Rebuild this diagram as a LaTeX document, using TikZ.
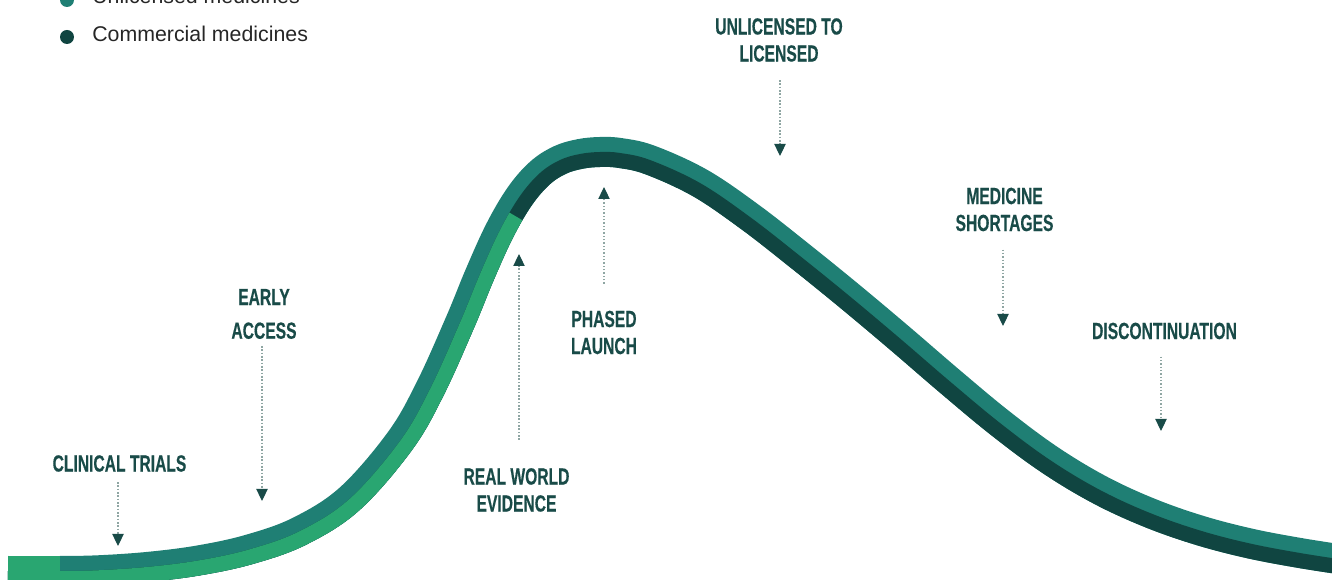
\documentclass[tikz,border=0pt]{standalone}
\usepackage{fontspec}
\setmainfont{Liberation Sans}
\newfontfamily\stagefont{Liberation Sans}[FakeStretch=0.67,BoldFeatures={FakeBold=0.4}]
\usetikzlibrary{arrows.meta}

\definecolor{unlicensed}{HTML}{1F7F74}
\definecolor{trialgreen}{HTML}{29A671}
\definecolor{commercial}{HTML}{104541}
\definecolor{stageink}{HTML}{194B48}
\definecolor{dotline}{HTML}{8FA6A3}

% middle line of the life-cycle band (pixel units, y pointing down)
\newcommand\lifeline{plot[smooth,tension=0.6] coordinates {(8,571) (60,571) (100,570.2) (150,566.7) (200,560.2) (250,549.2) (300,531) (350,498.5) (400,441) (430,389) (460,322.5) (480,274) (500,230) (520,196) (540,173) (560,160) (580,154) (600,152) (620,153) (650,160) (700,183) (750,217) (800,256) (850,296.5) (900,338.5) (950,381.5) (1000,423) (1050,460) (1100,490) (1150,513) (1200,530.5) (1250,543.5) (1300,553) (1345,560)}}

\tikzset{
  band/.style={line width=22.5pt},
  stage/.style={font=\stagefont\bfseries\fontsize{17.5}{20.25}\selectfont, text=stageink, align=center, inner sep=0pt},
  pointer/.style={dotline, line width=0.8pt, dash pattern=on 1.2pt off 1.3pt, -{Triangle[width=8.5pt,length=9pt,color=stageink]}},
  legend/.style={font=\fontsize{16}{19}\selectfont, text=black!85, anchor=base west, inner sep=0pt},
  dot/.style={circle, inner sep=0pt, minimum size=10.5pt},
}

\begin{document}
\begin{tikzpicture}[x=0.75pt,y=-0.75pt]
\useasboundingbox (0,0) rectangle (1332,580);
\clip (0,0) rectangle (1332,580);

% legend
\node[dot, fill=unlicensed] (unlic dot) at (67,0) {};
\node[legend] (unlic) at (92,4) {Unlicensed medicines};
\node[dot, fill=commercial] (comm dot) at (67,37) {};
\node[legend] (comm) at (92,42) {Commercial medicines};

% the band: outer half unlicensed, inner half split green / commercial
\draw[band, unlicensed] \lifeline;
\begin{scope}
  \clip \lifeline -- (1345,600) -- (-10,600) -- (-10,571) -- cycle;
  \draw[band, commercial] \lifeline;
  \clip (131,-10) -- (1168,600) -- (-10,600) -- (-10,-10) -- cycle;
  \draw[band, trialgreen] \lifeline;
\end{scope}
\fill[trialgreen] (8,556) rectangle (60,586);

% stages
\node[stage] (trials) at (119.5,463.5) {CLINICAL TRIALS};
\node[stage] (early) at (264,314) {EARLY\\[5pt]ACCESS};
\node[stage] (evidence) at (516.5,490) {REAL WORLD\\EVIDENCE};
\node[stage] (phased) at (604,332.5) {PHASED\\LAUNCH};
\node[stage] (licensed) at (779,40) {UNLICENSED TO\\LICENSED};
\node[stage] (shortages) at (1004.5,209.5) {MEDICINE\\SHORTAGES};
\node[stage] (discontinued) at (1164.5,331) {DISCONTINUATION};

\coordinate (trials tip) at (118,546);
\coordinate (early tip) at (262,501);
\coordinate (evidence tip) at (519,254);
\coordinate (phased tip) at (604,187);
\coordinate (licensed tip) at (780,156);
\coordinate (shortages tip) at (1003,326);
\coordinate (discontinued tip) at (1161,431);

\draw[pointer, shorten <=7.5pt] (trials.south -| trials tip) -- (trials tip);
\draw[pointer, shorten <=5pt] (early.south -| early tip) -- (early tip);
\draw[pointer, shorten <=21pt] (evidence.north -| evidence tip) -- (evidence tip);
\draw[pointer, shorten <=20pt] (phased.north -| phased tip) -- (phased tip);
\draw[pointer, shorten <=13.5pt] (licensed.south -| licensed tip) -- (licensed tip);
\draw[pointer, shorten <=13.5pt] (shortages.south -| shortages tip) -- (shortages tip);
\draw[pointer, shorten <=12.75pt] (discontinued.south -| discontinued tip) -- (discontinued tip);
\end{tikzpicture}
\end{document}
